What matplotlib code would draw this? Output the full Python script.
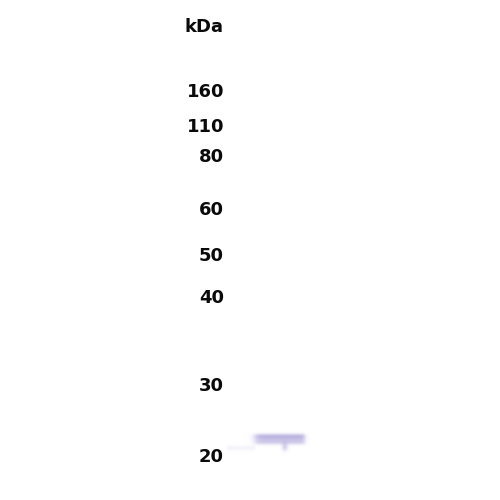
import numpy as np
import matplotlib.pyplot as plt
from matplotlib.colors import LinearSegmentedColormap

# marker ladder (kDa) and where each one ran on the blot (px from top)
marker_kda = ["160", "110", "80", "60", "50", "40", "30", "20"]
marker_pos = [92, 127, 157, 210, 256, 298, 386, 457]

# the one sample lane and its band
band_kda = 22
band_pos = 439
band_left = 255
band_right = 305
band_strength = 0.6

fig = plt.figure(figsize=(5, 5), dpi=100)
ax = fig.add_axes([0, 0, 1, 1])
ax.set_xlim(0, 500)
ax.set_ylim(500, 0)
ax.axis("off")

ax.text(224, 27, "kDa", ha="right", va="center", fontsize=13,
        fontweight="bold", color="#0a0a0a")
for lab, y in zip(marker_kda, marker_pos):
    ax.text(224, y, lab, ha="right", va="center", fontsize=13,
            fontweight="bold", color="#0a0a0a")

# soft band: build a small intensity map and let imshow blur the edges
purple = LinearSegmentedColormap.from_list("blot", ["#ffffff", "#9a8fd2"])
xs = np.linspace(band_left - 30, band_right + 5, 140)
ys = np.linspace(band_pos - 12, band_pos + 18, 70)
X, Y = np.meshgrid(xs, ys)
core = np.exp(-((Y - band_pos) / 5.5) ** 4)
core *= 1 / (1 + np.exp(-(X - band_left) / 2.0))
core *= 1 / (1 + np.exp((X - band_right) / 1.2))
core *= 0.85 + 0.3 * np.exp(-((Y - band_pos + 3) / 3) ** 2)
tail = 0.7 * np.exp(-((X - 285) / 3) ** 2) * np.exp(-((Y - band_pos - 8) / 4) ** 2)
smear = 0.1 * np.exp(-((Y - band_pos - 9) / 2.5) ** 2) * (X < band_left) * (X > band_left - 28)
img = band_strength * (core + tail) + smear
ax.imshow(img, cmap=purple, vmin=0, vmax=1,
          extent=[xs[0], xs[-1], ys[-1], ys[0]], aspect="auto",
          interpolation="bilinear", zorder=1)
ax.set_xlim(0, 500)
ax.set_ylim(500, 0)

fig.savefig("out.png", dpi=100, facecolor="white")
